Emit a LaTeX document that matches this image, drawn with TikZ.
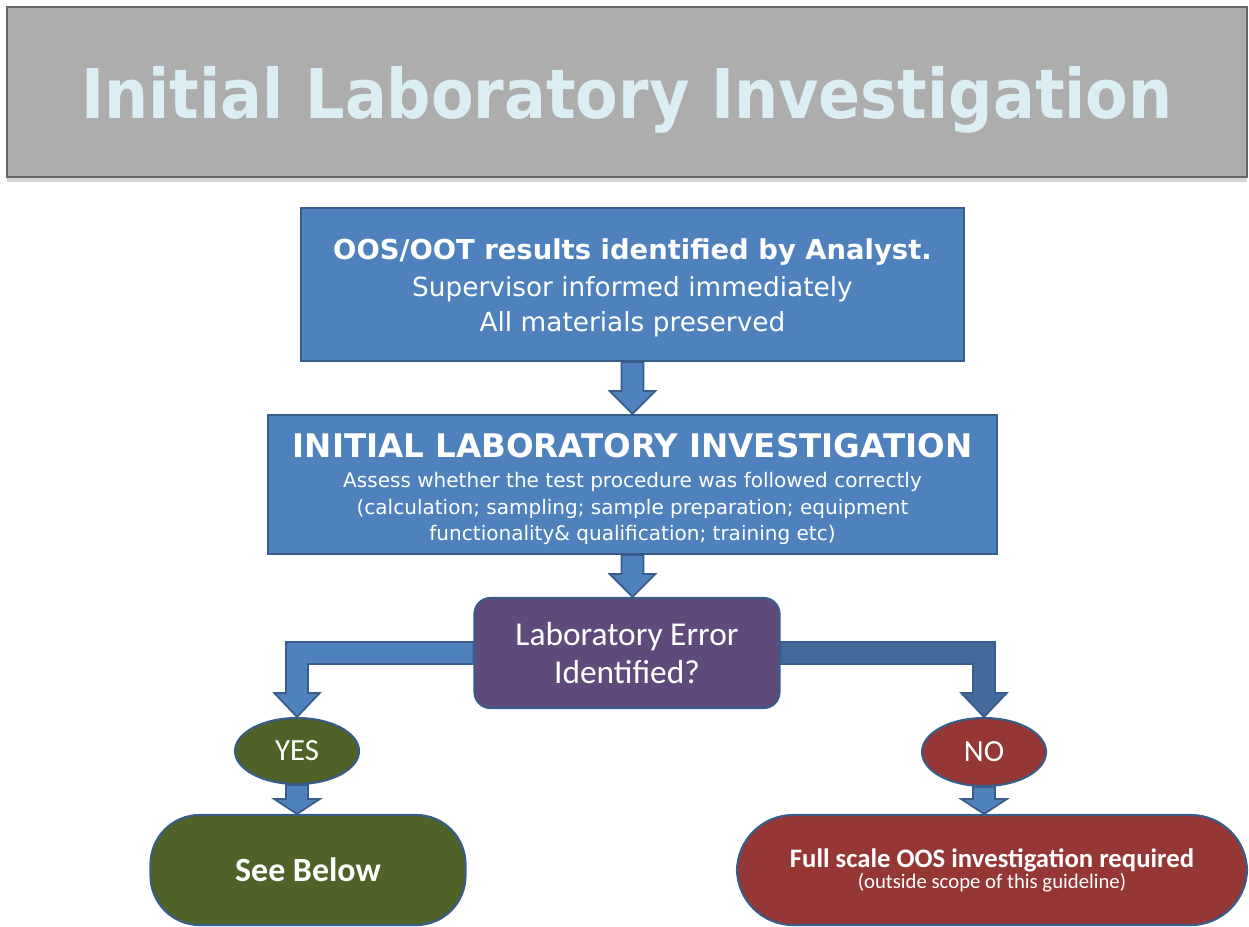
\documentclass[tikz,border=0pt]{standalone}
\usepackage{fontspec}
\setmainfont{DejaVu Sans}
\newfontfamily\titlefont{DejaVu Sans}[FakeStretch=0.905]
\newfontfamily\calibrifont{Carlito}
\usepackage{tikz}
\usetikzlibrary{
	positioning,
	shapes.geometric,
	shadows,
	calc
}

\definecolor{boxblue}{HTML}{4F81BD}
\definecolor{edgeblue}{HTML}{385D8A}
\definecolor{arrowdark}{HTML}{44699B}
\definecolor{askpurple}{HTML}{604A7B}
\definecolor{yesgreen}{HTML}{4F6228}
\definecolor{nored}{HTML}{953735}
\definecolor{titlegray}{HTML}{ADADAD}
\definecolor{titletext}{HTML}{DBEEF4}

% straight block arrow: from, to, head length
\newcommand{\downblock}[4][]{%
	\path[blockarrow,#1] let \p1=(#2), \p2=(#3) in
		({\x1-6.3pt},{\y1}) -- ({\x1-6.3pt},{\y2+#4}) -- ({\x1-13pt},{\y2+#4})
		-- ({\x1},{\y2}) -- ({\x1+13pt},{\y2+#4}) -- ({\x1+6.3pt},{\y2+#4})
		-- ({\x1+6.3pt},{\y1}) -- cycle;}
% elbow block arrow: from side, to top, direction (1 left, -1 right)
\newcommand{\elbowblock}[4][]{%
	\path[blockarrow,#1] let \p1=(#2), \p2=(#3) in
		({\x1},{\y1+6.3pt}) -- ({\x2-(#4)*6.3pt},{\y1+6.3pt})
		-- ({\x2-(#4)*6.3pt},{\y2+13.7pt}) -- ({\x2-(#4)*13pt},{\y2+13.7pt})
		-- ({\x2},{\y2}) -- ({\x2+(#4)*13pt},{\y2+13.7pt})
		-- ({\x2+(#4)*6.3pt},{\y2+13.7pt}) -- ({\x2+(#4)*6.3pt},{\y1-6.3pt})
		-- ({\x1},{\y1-6.3pt}) -- cycle;}

\begin{document}
\begin{tikzpicture}[
		stepbox/.style={draw=edgeblue, line width=1.2pt, fill=boxblue,
			text=white, align=center, inner sep=0pt},
		askbox/.style={stepbox, fill=askpurple, rounded corners=9pt,
			font=\calibrifont\fontsize{19}{21.5}\selectfont},
		answer/.style={stepbox, ellipse, font=\calibrifont\fontsize{17.5}{20}\selectfont},
		outcome/.style={stepbox, rounded corners=28pt},
		blockarrow/.style={draw=edgeblue, line width=1pt, fill=boxblue, line join=miter}
	]
	\useasboundingbox (0,0) rectangle (24.98,-18.52);

	\node[draw=gray!80!black, fill=titlegray, line width=0.8pt,
		drop shadow={opacity=0.35, shadow xshift=0pt, shadow yshift=-3pt},
		minimum width=24.8cm, minimum height=3.4cm, inner sep=0pt, text depth=0pt,
		text=titletext, font=\titlefont\bfseries\fontsize{39}{44}\selectfont]
		(title) at (12.54,-1.84) {Initial Laboratory Investigation};

	\node[stepbox, minimum width=13.26cm, minimum height=3.06cm,
		font=\fontsize{15}{20}\selectfont]
		(found) at (12.65,-5.69)
		{\rule{0pt}{15.3pt}{\bfseries\fontsize{15.6}{20}\selectfont OOS/OOT results identified by Analyst.}\\[1pt]
		Supervisor informed immediately\\
		All materials preserved};

	\node[stepbox, minimum width=14.58cm, minimum height=2.78cm,
		font=\fontsize{11.4}{15.2}\selectfont]
		(inv) at (12.65,-9.69)
		{\rule{0pt}{19pt}{\bfseries\fontsize{18.5}{21}\selectfont INITIAL LABORATORY INVESTIGATION}\\[2pt]
		Assess whether the test procedure was followed correctly\\
		(calculation; sampling; sample preparation; equipment\\
		functionality\& qualification; training etc)};

	\node[askbox, minimum width=6.1cm, minimum height=2.2cm]
		(err) at (12.54,-13.06) {Laboratory Error\\Identified?};

	\node[answer, fill=yesgreen, minimum width=2.48cm, minimum height=1.32cm]
		(yes) at (5.94,-15.02) {YES};
	\node[answer, fill=nored, minimum width=2.48cm, minimum height=1.36cm]
		(no) at (19.68,-15.04) {NO};

	\node[outcome, fill=yesgreen, minimum width=6.3cm, minimum height=2.2cm,
		font=\calibrifont\bfseries\fontsize{19.3}{22}\selectfont]
		(below) at (6.16,-17.40) {See Below};
	\node[outcome, fill=nored, minimum width=10.2cm, minimum height=2.2cm,
		rounded corners=32pt, font=\calibrifont\fontsize{11.8}{12}\selectfont]
		(full) at (19.84,-17.40)
		{{\bfseries\fontsize{15.2}{16}\selectfont Full scale OOS investigation required}\\
		(outside scope of this guideline)};

	% connectors
	\downblock{found.south}{inv.north}{13pt}
	\downblock{inv.south}{err.north}{13pt}
	\elbowblock{err.west}{yes.north}{1}
	\elbowblock[fill=arrowdark]{err.east}{no.north}{-1}
	\downblock{yes.south}{below.north}{8.5pt}
	\downblock{no.south}{full.north}{8.5pt}
\end{tikzpicture}
\end{document}
